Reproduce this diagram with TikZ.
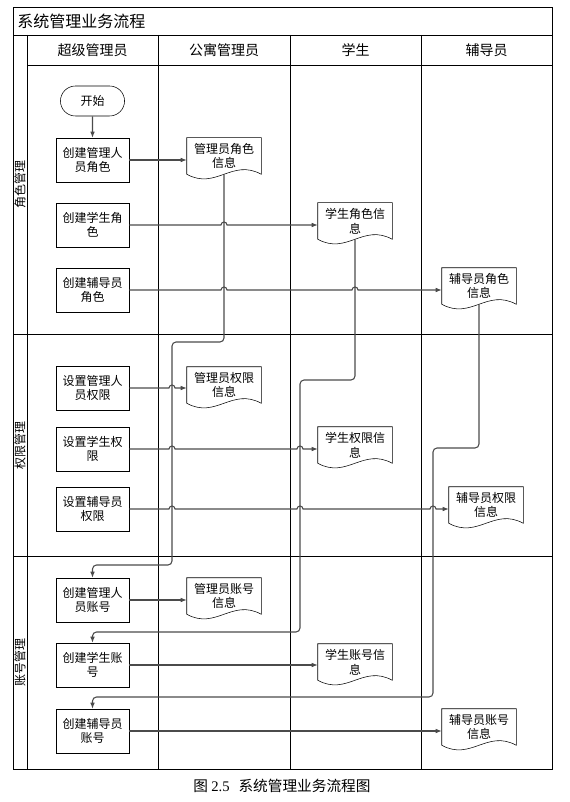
\documentclass[tikz,border=0pt]{standalone}
\usepackage{fontspec}
\setmainfont{Noto Sans CJK SC}
\newfontfamily\numfont{Liberation Serif}
\usetikzlibrary{arrows.meta,shapes.misc}
\definecolor{flowgray}{RGB}{75,75,75}
\tikzset{
  proc/.style={draw, minimum width=54.75pt, minimum height=33pt, align=center,
    inner sep=1pt, font=\fontsize{9}{10.5}\selectfont},
  docu/.style={minimum width=55.5pt, minimum height=27pt, align=center,
    inner sep=1pt, font=\fontsize{9}{11}\selectfont},
  startend/.style={draw, rounded rectangle, minimum width=54.75pt,
    minimum height=22.5pt, font=\fontsize{9}{10.5}\selectfont},
  flow/.style={draw=flowgray, line width=0.8pt, -{Latex[length=4.5pt,width=3.5pt]}},
  route/.style={flow, rounded corners=3pt},
  lane/.style={line width=0.7pt},
}

\begin{document}
\begin{tikzpicture}[x=0.75pt, y=-0.75pt]
\useasboundingbox (0,0) rectangle (570,802);

% swimlanes
\draw[lane] (13,7) rectangle (552,769);
\draw[lane] (13,35) -- (552,35);
\draw[lane] (27,65) -- (552,65);
\draw[lane] (27,35) -- (27,769);
\foreach \x in {158,290,421}
  \draw[lane] (\x,35) -- (\x,769);
\foreach \y in {334,556}
  \draw[lane] (13,\y) -- (552,\y);

\node[anchor=west, inner sep=0pt, font=\fontsize{12}{14}\selectfont] (title) at (17,21) {系统管理业务流程};
\foreach \t/\x [count=\i] in {超级管理员/92.5, 公寓管理员/224, 学生/355.5, 辅导员/486.5}
  \node[font=\fontsize{10.5}{12}\selectfont] (head\i) at (\x,50) {\t};
\foreach \t/\y [count=\i] in {角色管理/184.5, 权限管理/445, 账号管理/662.5}
  \node[rotate=90, font=\fontsize{9}{10.5}\selectfont] (lane\i) at (20,\y) {\t};

% processes
\node[startend] (start) at (92.5,101) {开始};
\node[proc] (a1) at (92.5,160) {创建管理人\\员角色};
\node[proc] (a2) at (92.5,225) {创建学生角\\色};
\node[proc] (a3) at (92.5,290) {创建辅导员\\角色};
\node[proc] (b1) at (92.5,388) {设置管理人\\员权限};
\node[proc] (b2) at (92.5,449) {设置学生权\\限};
\node[proc] (b3) at (92.5,509) {设置辅导员\\权限};
\node[proc] (c1) at (92.5,600) {创建管理人\\员账号};
\node[proc] (c2) at (92.5,665) {创建学生账\\号};
\node[proc] (c3) at (92.5,731) {创建辅导员\\账号};

% documents
\node[docu] (ar) at (224,156) {管理员角色\\信息};
\node[docu] (sr) at (355,221) {学生角色信\\息};
\node[docu] (fr) at (479,286) {辅导员角色\\信息};
\node[docu] (ap) at (224,385) {管理员权限\\信息};
\node[docu] (sp) at (355,445) {学生权限信\\息};
\node[docu] (fp) at (486,505) {辅导员权限\\信息};
\node[docu] (aa) at (224,596) {管理员账号\\信息};
\node[docu] (sa) at (355,662) {学生账号信\\息};
\node[docu] (fa) at (479,727) {辅导员账号\\信息};
\foreach \d in {ar,sr,fr,ap,sp,fp,aa,sa,fa}
  \draw (\d.north west) -- (\d.north east) -- (\d.south east)
    .. controls ([xshift=-22pt,yshift=12pt]\d.south east) and ([xshift=22pt,yshift=-12pt]\d.south west) .. (\d.south west) -- cycle;

% arrows
\draw[flow] (start) -- (a1);
\draw[flow] (a1) -- (a1 -| ar.west);
\draw[flow] (a2.east) -- (221,225) arc[start angle=180,end angle=0,radius=2.25pt] -- (a2 -| sr.west);
\draw[flow] (a3.east) -- (221,290) arc[start angle=180,end angle=0,radius=2.25pt]
  -- (352,290) arc[start angle=180,end angle=0,radius=2.25pt] -- (a3 -| fr.west);
\draw[flow] (b1.east) -- (169,388) arc[start angle=180,end angle=0,radius=2.25pt] -- (b1 -| ap.west);
\draw[flow] (b2.east) -- (169,449) arc[start angle=180,end angle=0,radius=2.25pt]
  -- (297,449) arc[start angle=180,end angle=0,radius=2.25pt] -- (b2 -| sp.west);
\draw[flow] (b3.east) -- (169,509) arc[start angle=180,end angle=0,radius=2.25pt]
  -- (297,509) arc[start angle=180,end angle=0,radius=2.25pt]
  -- (430,509) arc[start angle=180,end angle=0,radius=2.25pt] -- (b3 -| fp.west);
\draw[flow] (c1) -- (c1 -| aa.west);
\draw[flow] (c2) -- (c2 -| sa.west);
\draw[flow] (c3) -- (c3 -| fa.west);

% back to accounts
\draw[route] (ar.south) -- (224,342) -- (172,342) -- (172,565) -- (92.5,565) -- (c1.north);
\draw[route] (sr.south) -- (355,380) -- (300,380) -- (300,632) -- (92.5,632) -- (c2.north);
\draw[route] (fr.south) -- (479,448) -- (433,448) -- (433,697) -- (92.5,697) -- (c3.north);

\node[font=\fontsize{11}{13}\selectfont] (caption) at (282,786) {图 {\numfont 2.5}\hspace{0.6em}系统管理业务流程图};
\end{tikzpicture}
\end{document}
